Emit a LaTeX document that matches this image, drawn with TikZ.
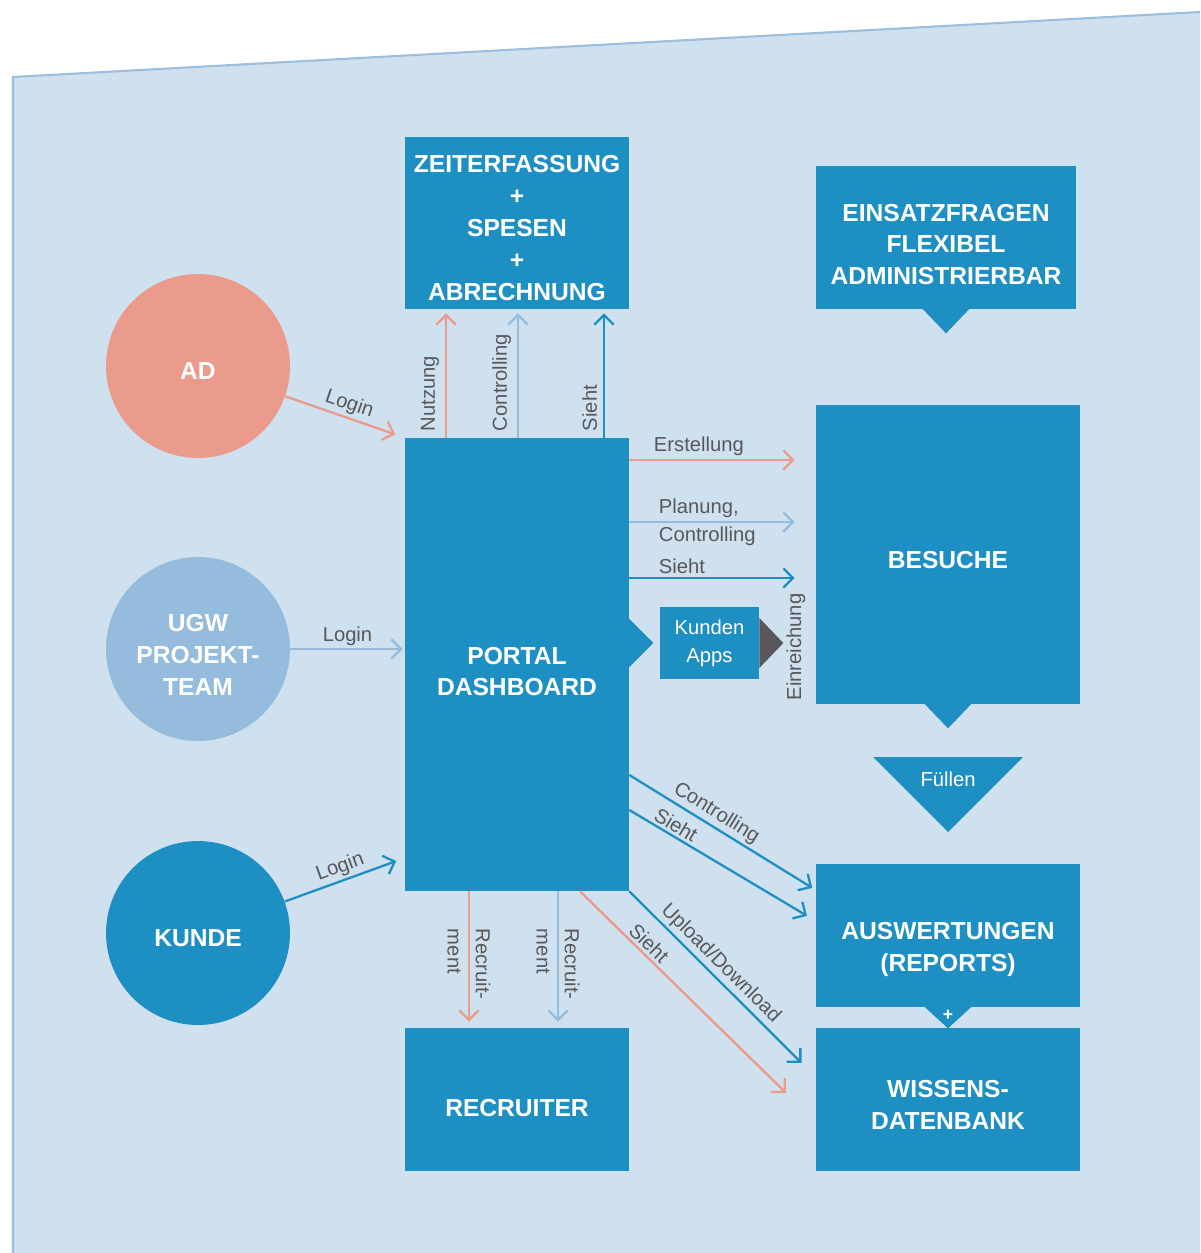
\documentclass[tikz,border=0pt]{standalone}
\usepackage{fontspec}
\setmainfont{Liberation Sans}
\usepackage{xcolor}
\usetikzlibrary{positioning,arrows.meta}
\definecolor{ugwblue}{HTML}{1E8FC3}
\definecolor{ugwlight}{HTML}{95BCDC}
\definecolor{ugwsalmon}{HTML}{EB9B8B}
\definecolor{ugwback}{HTML}{CFE0EE}
\definecolor{ugwedge}{HTML}{9DBFDD}
\definecolor{ugwgrey}{HTML}{58585A}
\tikzset{
    ugwbox/.style={fill=ugwblue, inner sep=0pt},
    ugwboxtext/.style={text=white, align=center, inner sep=0pt, yshift=-3.4pt, font=\fontsize{14}{18.2}\selectfont\bfseries},
    ugwsmall/.style={fill=ugwblue, text=white, align=center, inner sep=0pt, font=\fontsize{11.5}{16}\selectfont},
    ugwcircle/.style={circle, minimum size=3.68cm, inner sep=0pt},
    ugwlabel/.style={text=ugwgrey, inner sep=1.5pt, font=\fontsize{11.5}{16}\selectfont},
    ugwarrow/.style={draw, line width=1.3pt, -{Straight Barb[length=5.5pt,width=11pt]}},
    ugwpointer/.style={fill=ugwblue}
}
\begin{document}
\begin{tikzpicture}[x=0.02cm, y=-0.02cm]
    \useasboundingbox (0,0) rectangle (1200,1253);
    \fill[ugwback] (13,77) -- (1200,12) -- (1200,1253) -- (13,1253) -- cycle;
    \draw[ugwedge, line width=1.2pt] (13,1253) -- (13,77) -- (1200,12);

    % boxes
    \node[ugwbox, minimum width=4.48cm, minimum height=3.44cm,
        label={[ugwboxtext, yshift=0.6pt, name=zeittext]center:{ZEITERFASSUNG\\+\\SPESEN\\+\\ABRECHNUNG}}] (zeit) at (517,223) {};
    \node[ugwbox, minimum width=5.2cm, minimum height=2.86cm,
        label={[ugwboxtext, yshift=-0.6pt, name=einsatztext]center:{EINSATZFRAGEN\\FLEXIBEL\\ADMINISTRIERBAR}}] (einsatz) at (946,237.5) {};
    \node[ugwbox, minimum width=4.48cm, minimum height=9.06cm,
        label={[ugwboxtext, yshift=-0.6pt, name=portaltext]center:{PORTAL\\DASHBOARD}}] (portal) at (517,664.5) {};
    \node[ugwbox, minimum width=5.28cm, minimum height=5.98cm,
        label={[ugwboxtext, name=besuchetext]center:{BESUCHE}}] (besuche) at (948,554.5) {};
    \node[ugwsmall, minimum width=1.98cm, minimum height=1.44cm] (apps) at (709.5,643) {Kunden\\Apps};
    \node[ugwbox, minimum width=5.28cm, minimum height=2.86cm,
        label={[ugwboxtext, yshift=-4.6pt, name=auswerttext]center:{AUSWERTUNGEN\\(REPORTS)}}] (auswert) at (948,935.5) {};
    \node[ugwbox, minimum width=5.28cm, minimum height=2.86cm,
        label={[ugwboxtext, yshift=0.6pt, name=wissentext]center:{WISSENS-\\DATENBANK}}] (wissen) at (948,1099.5) {};
    \node[ugwbox, minimum width=4.48cm, minimum height=2.86cm,
        label={[ugwboxtext, yshift=-1.7pt, name=recruitertext]center:{RECRUITER}}] (recruiter) at (517,1099.5) {};

    \node[ugwcircle, fill=ugwsalmon, label={[ugwboxtext, yshift=0.6pt, name=adtext]center:{AD}}] (ad) at (198,366) {};
    \node[ugwcircle, fill=ugwlight, label={[ugwboxtext, name=ugwtext]center:{UGW\\PROJEKT-\\TEAM}}] (ugw) at (198,649) {};
    \node[ugwcircle, fill=ugwblue, label={[ugwboxtext, yshift=0.6pt, name=kundetext]center:{KUNDE}}] (kunde) at (198,933) {};

    % pointers
    \fill[ugwpointer] (einsatz.south) ++(-24,-1) -- ++(48,0) -- ++(-24,25) -- cycle;
    \fill[ugwpointer] (besuche.south) ++(-24,-1) -- ++(48,0) -- ++(-24,25) -- cycle;
    \fill[ugwpointer] (portal.east |- apps) ++(-1,-25) -- ++(25,25) -- ++(-25,25) -- cycle;
    \fill[ugwgrey] (apps.east) ++(0,-25) -- ++(24,25) -- ++(-24,25) -- cycle;
    \fill[ugwpointer] (auswert.south) ++(-24,-1) -- ++(48,0) -- ++(-24,22) -- cycle;
    \node[text=white, inner sep=0pt, font=\fontsize{10}{10}\selectfont\bfseries] (plus) at (948,1015) {+};
    \fill[ugwpointer] (873,757) -- (1023,757) -- (948,832) -- cycle;
    \node[ugwlabel, text=white] (fuellen) at (948,779) {Füllen};

    % logins
    \draw[ugwarrow, ugwsalmon, shorten >=0.2cm] (ad) -- (portal.north west)
        node[ugwlabel, midway, above, sloped] (adlogin) {Login};
    \draw[ugwarrow, ugwlight, shorten >=0.04cm] (ugw.east) -- (portal.west |- ugw.east)
        node[ugwlabel, midway, above] (ugwlogin) {Login};
    \draw[ugwarrow, ugwblue, shorten >=0.18cm] (kunde) -- (portal.west |- 0,858)
        node[ugwlabel, midway, above, sloped] (kundelogin) {Login};

    % up to zeiterfassung
    \draw[ugwarrow, ugwsalmon, shorten >=0.08cm] (portal.north -| 446,0) -- (zeit.south -| 446,0);
    \draw[ugwarrow, ugwlight, shorten >=0.08cm] (portal.north -| 518,0) -- (zeit.south -| 518,0);
    \draw[ugwarrow, ugwblue, shorten >=0.08cm] (portal.north -| 604,0) -- (zeit.south -| 604,0);
    \node[ugwlabel, rotate=90, anchor=south west] (nutzung) at (442,434) {Nutzung};
    \node[ugwlabel, rotate=90, anchor=south west] (ctrlup) at (514,434) {Controlling};
    \node[ugwlabel, rotate=90, anchor=south west] (siehtup) at (600,434) {Sieht};

    % right to besuche
    \draw[ugwarrow, ugwsalmon, shorten >=0.42cm] (portal.east |- 0,460) -- (besuche.west |- 0,460);
    \draw[ugwarrow, ugwlight, shorten >=0.42cm] (portal.east |- 0,522) -- (besuche.west |- 0,522);
    \draw[ugwarrow, ugwblue, shorten >=0.42cm] (portal.east |- 0,578) -- (besuche.west |- 0,578);
    \node[ugwlabel, anchor=south west] (erstellung) at (651,459) {Erstellung};
    \node[ugwlabel, anchor=west, align=left] (planung) at (656,522) {Planung,\\Controlling};
    \node[ugwlabel, anchor=south west] (siehtbes) at (656,577) {Sieht};
    \node[ugwlabel, rotate=90] (einreich) at (796,647) {Einreichung};

    % down to auswertungen and wissensdatenbank
    \draw[ugwarrow, ugwblue, shorten >=0.08cm] (portal.east |- 0,775) -- (auswert.west |- 0,890)
        node[ugwlabel, pos=0.43, above, sloped] (ctrldiag) {Controlling};
    \draw[ugwarrow, ugwblue, shorten >=0.2cm] (portal.east |- 0,810) -- (auswert.west |- 0,921)
        node[ugwlabel, pos=0.22, above, sloped] (siehtdiag) {Sieht};
    \draw[ugwarrow, ugwblue, shorten >=0.4cm] (portal.south east) -- (wissen.west |- 0,1077)
        node[ugwlabel, pos=0.44, above, sloped] (updown) {Upload/Download};
    \draw[ugwarrow, ugwsalmon, shorten >=0.83cm] (portal.south -| 580,0) -- (wissen.west |- 0,1122)
        node[ugwlabel, pos=0.26, above, sloped] (siehtwis) {Sieht};

    % down to recruiter
    \draw[ugwarrow, ugwsalmon, shorten >=0.12cm] (portal.south -| 469,0) -- (recruiter.north -| 469,0);
    \draw[ugwarrow, ugwlight, shorten >=0.12cm] (portal.south -| 558,0) -- (recruiter.north -| 558,0);
    \node[ugwlabel, rotate=-90, anchor=west, align=left] (recr1) at (469,926) {Recruit-\\ment};
    \node[ugwlabel, rotate=-90, anchor=west, align=left] (recr2) at (558,926) {Recruit-\\ment};
\end{tikzpicture}
\end{document}
